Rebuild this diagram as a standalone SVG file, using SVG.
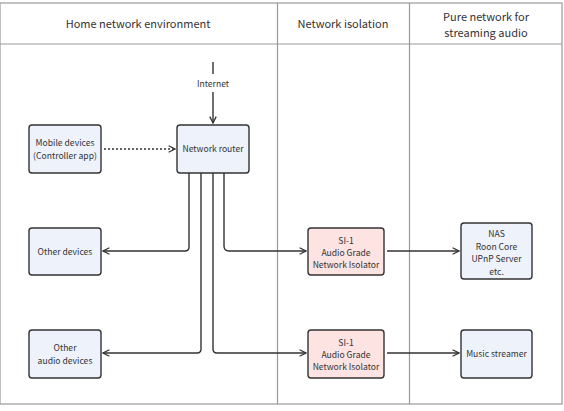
<svg xmlns="http://www.w3.org/2000/svg" width="564" height="411" viewBox="0 0 564 411">
<style>
.frame{fill:none;stroke:#9a9a9a;stroke-width:1.2}
.hdr{font-family:"Noto Sans CJK SC","Lato",sans-serif;font-size:11px;fill:#333;text-anchor:middle}
.lbl{font-family:"Noto Sans CJK SC","Lato",sans-serif;font-size:8.6px;fill:#333;text-anchor:middle}
.blue{fill:#edf2fb;stroke:#333;stroke-width:1.4}
.pink{fill:#fde3e1;stroke:#333;stroke-width:1.4}
.ln{fill:none;stroke:#333;stroke-width:1.4}
</style>
<defs>
<marker id="ah" viewBox="0 0 10 10" refX="9" refY="5" markerWidth="8" markerHeight="8" markerUnits="userSpaceOnUse" orient="auto">
<path d="M1,1 L9,5 L1,9" fill="none" stroke="#333" stroke-width="1.6"/>
</marker>
</defs>
<rect width="564" height="411" fill="#fff"/>
<g id="frame">
<rect class="frame" x="0" y="3" width="562" height="401"/>
<line class="frame" x1="0" y1="44" x2="562" y2="44"/>
<line class="frame" x1="277.5" y1="3" x2="277.5" y2="404"/>
<line class="frame" x1="409.5" y1="3" x2="409.5" y2="404"/>
<text class="hdr" x="138" y="28">Home network environment</text>
<text class="hdr" x="343" y="28">Network isolation</text>
<text class="hdr" x="486" y="21">Pure network for</text>
<text class="hdr" x="486" y="37">streaming audio</text>
</g>
<g id="connectors">
<line class="ln" x1="213" y1="62" x2="213" y2="74"/>
<text class="lbl" x="213" y="87">Internet</text>
<line class="ln" x1="213" y1="92" x2="213" y2="123" marker-end="url(#ah)"/>
<line class="ln" x1="104" y1="149" x2="175" y2="149" stroke-dasharray="2,2" marker-end="url(#ah)"/>
<path class="ln" d="M189,173 V247 Q189,251 185,251 H103" marker-end="url(#ah)"/>
<path class="ln" d="M201,173 V349 Q201,353 197,353 H103" marker-end="url(#ah)"/>
<path class="ln" d="M213,173 V349 Q213,353 217,353 H306" marker-end="url(#ah)"/>
<path class="ln" d="M224,173 V246 Q224,251 229,251 H306" marker-end="url(#ah)"/>
<line class="ln" x1="387" y1="251" x2="459" y2="251" marker-end="url(#ah)"/>
<line class="ln" x1="387" y1="353" x2="459" y2="353" marker-end="url(#ah)"/>
</g>
<g id="mobile">
<rect class="blue" x="29" y="125" width="72" height="48" rx="3"/>
<text class="lbl" x="65" y="146">Mobile devices</text>
<text class="lbl" x="65" y="159">(Controller app)</text>
</g>
<g id="router">
<rect class="blue" x="177" y="125" width="72" height="48" rx="3"/>
<text class="lbl" x="213" y="152">Network router</text>
</g>
<g id="other">
<rect class="blue" x="29" y="228" width="72" height="47" rx="3"/>
<text class="lbl" x="65" y="255">Other devices</text>
</g>
<g id="otheraudio">
<rect class="blue" x="29" y="330" width="72" height="48" rx="3"/>
<text class="lbl" x="65" y="351">Other</text>
<text class="lbl" x="65" y="364">audio devices</text>
</g>
<g id="si1a">
<rect class="pink" x="308" y="228" width="76" height="47" rx="3"/>
<text class="lbl" x="346" y="244">SI-1</text>
<text class="lbl" x="346" y="256">Audio Grade</text>
<text class="lbl" x="346" y="268">Network Isolator</text>
</g>
<g id="si1b">
<rect class="pink" x="308" y="330" width="76" height="48" rx="3"/>
<text class="lbl" x="346" y="346">SI-1</text>
<text class="lbl" x="346" y="358">Audio Grade</text>
<text class="lbl" x="346" y="370">Network Isolator</text>
</g>
<g id="nas">
<rect class="blue" x="461" y="223" width="71" height="56" rx="3"/>
<text class="lbl" x="496.5" y="237">NAS</text>
<text class="lbl" x="496.5" y="250">Roon Core</text>
<text class="lbl" x="496.5" y="262">UPnP Server</text>
<text class="lbl" x="496.5" y="275">etc.</text>
</g>
<g id="streamer">
<rect class="blue" x="461" y="330" width="71" height="48" rx="3"/>
<text class="lbl" x="496.5" y="357">Music streamer</text>
</g>
</svg>
